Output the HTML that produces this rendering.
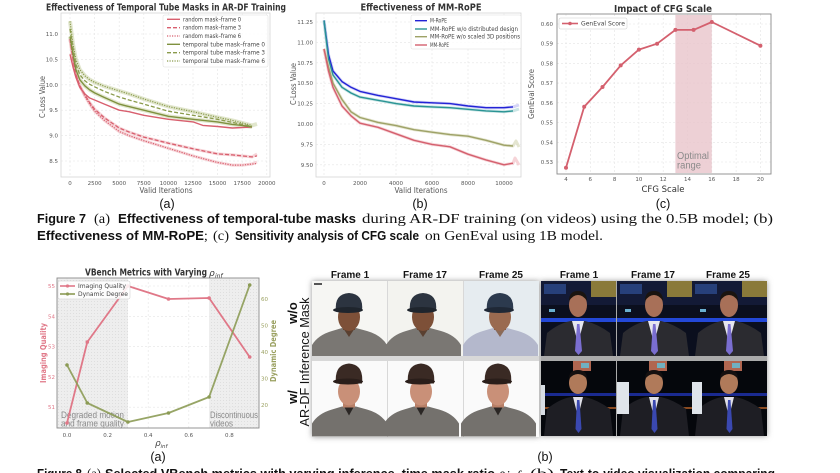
<!DOCTYPE html>
<html><head><meta charset="utf-8"><style>
html,body{margin:0;padding:0;background:#fff;}
svg{display:block;}
.tk{font-family:"DejaVu Sans","Liberation Sans",sans-serif;font-size:5.5px;fill:#555;}
.ax{font-family:"DejaVu Sans","Liberation Sans",sans-serif;font-size:8px;fill:#555;}
.ti{font-family:"DejaVu Sans","Liberation Sans",sans-serif;font-size:9.5px;font-weight:bold;fill:#333;}
.lg{font-family:"DejaVu Sans","Liberation Sans",sans-serif;font-size:6px;fill:#444;}
.cb{font-family:"Liberation Sans",sans-serif;font-size:13px;font-weight:bold;fill:#111;}
.cs{font-family:"Liberation Serif",serif;font-size:13.5px;fill:#111;}
.lab{font-family:"Liberation Sans",sans-serif;font-size:12.5px;fill:#111;}
.fr{font-family:"Liberation Sans",sans-serif;font-size:10px;font-weight:bold;fill:#111;}
.gr{stroke:#e4e4e4;stroke-width:0.6;stroke-dasharray:2,2;}
</style></head><body>
<svg width="840" height="473" viewBox="0 0 840 473" xmlns="http://www.w3.org/2000/svg">
<defs>
<pattern id="dots" width="3" height="3" patternUnits="userSpaceOnUse"><rect width="3" height="3" fill="#eeeeee"/><circle cx="1.5" cy="1.5" r="0.45" fill="#d6d6d6"/></pattern>
<filter id="sh" x="-10%" y="-10%" width="120%" height="120%"><feGaussianBlur stdDeviation="3"/></filter>
<symbol id="lp1" viewBox="0 0 75 75">
 <path d="M0,75 L0,64 Q6,54 20,50 L30,47 L44,47 L55,50 Q69,54 75,64 L75,75Z" fill="#7a7773"/>
 <path d="M31,47 L37,56 L43,47Z" fill="#5a4030"/>
 <rect x="31" y="38" width="12" height="11" fill="#6e4632"/>
 <ellipse cx="37" cy="36" rx="11" ry="14" fill="#7d5038"/>
 <path d="M24,30 Q22,13 37,12 Q52,13 50,30Z" fill="#2c3440"/>
 <ellipse cx="36" cy="29" rx="15" ry="3" fill="#1f252d"/>
</symbol>
<symbol id="lp1b" viewBox="0 0 75 75">
 <path d="M0,75 L0,64 Q6,54 20,50 L30,47 L44,47 L55,50 Q69,54 75,64 L75,75Z" fill="#b4b8cc"/>
 <path d="M31,47 L37,56 L43,47Z" fill="#8a6a58"/>
 <rect x="31" y="38" width="12" height="11" fill="#8a6048"/>
 <ellipse cx="37" cy="36" rx="11" ry="14" fill="#9a6a50"/>
 <path d="M24,30 Q22,13 37,12 Q52,13 50,30Z" fill="#2c3a4e"/>
 <ellipse cx="36" cy="29" rx="15" ry="3" fill="#1f2836"/>
</symbol>
<symbol id="lp2" viewBox="0 0 75 75">
 <path d="M0,75 L0,62 Q6,52 20,48 L30,45 L44,45 L55,48 Q69,52 75,62 L75,75Z" fill="#74716d"/>
 <path d="M32,45 L37,54 L42,45Z" fill="#2a2624"/>
 <rect x="31" y="34" width="12" height="12" fill="#b88068"/>
 <ellipse cx="37" cy="30" rx="11" ry="14" fill="#c99078"/>
 <path d="M24,22 Q22,3 37,2 Q52,3 50,22Z" fill="#3a2a24"/>
 <ellipse cx="36" cy="20" rx="15" ry="3" fill="#2a1e1a"/>
</symbol>
<symbol id="rp1" viewBox="0 0 75 75">
 <rect width="75" height="75" fill="#0b0f1e"/>
 <rect x="0" y="0" width="75" height="24" fill="#131a36"/>
 <rect x="3" y="3" width="22" height="10" fill="#27407a"/>
 <rect x="50" y="0" width="25" height="16" fill="#8a7a3a"/>
 <rect x="0" y="37" width="75" height="4" fill="#2348d8"/>
 <rect x="8" y="28" width="6" height="3" fill="#6ab0d0"/>
 <path d="M3,75 L6,52 Q18,42 30,40 L44,40 Q57,43 69,52 L72,75Z" fill="#2b2b30"/>
 <path d="M31,40 L37,62 L43,40Z" fill="#e6e6ee"/>
 <path d="M36,43 L38.5,43 L41,70 L37.5,74 L34,70Z" fill="#7a6ed0"/>
 <ellipse cx="37" cy="24" rx="9" ry="12" fill="#a87058"/>
 <path d="M28,20 Q28,10 37,10 Q46,10 46,20 Q42,14 37,14 Q32,14 28,20Z" fill="#1a1410"/>
</symbol>
<symbol id="rp2" viewBox="0 0 75 75">
 <rect width="75" height="75" fill="#05070c"/>
 <rect x="32" y="0" width="18" height="10" fill="#b06650"/>
 <rect x="40" y="2" width="8" height="5" fill="#70b0c0"/>
 <rect x="0" y="32" width="75" height="3" fill="#1a2a90"/>
 <rect x="0" y="46" width="75" height="2" fill="#8a4a20"/>
 <path d="M3,75 L6,48 Q18,38 30,36 L44,36 Q57,39 69,48 L72,75Z" fill="#1e1e24"/>
 <path d="M32,36 L37,56 L42,36Z" fill="#e0e0e8"/>
 <path d="M36,39 L38.5,39 L40.5,68 L37.5,72 L34.5,68Z" fill="#3a48b0"/>
 <ellipse cx="37" cy="22" rx="9" ry="11" fill="#b07a5a"/>
 <path d="M28,18 Q28,9 37,9 Q46,9 46,18 Q42,13 37,13 Q32,13 28,18Z" fill="#151010"/>
</symbol>
</defs>

<!-- ============ CHART A ============ -->
<text class="ti" x="166" y="10.5" text-anchor="middle" textLength="240" lengthAdjust="spacingAndGlyphs">Effectiveness of Temporal Tube Masks in AR-DF Training</text>
<rect x="61" y="13" width="209" height="164" fill="#fff" stroke="#d4d4d4" stroke-width="0.8"/>
<g class="gr">
<line x1="70" y1="13" x2="70" y2="177"/><line x1="94.6" y1="13" x2="94.6" y2="177"/><line x1="119.2" y1="13" x2="119.2" y2="177"/><line x1="143.8" y1="13" x2="143.8" y2="177"/><line x1="168.4" y1="13" x2="168.4" y2="177"/><line x1="193" y1="13" x2="193" y2="177"/><line x1="217.6" y1="13" x2="217.6" y2="177"/><line x1="242.2" y1="13" x2="242.2" y2="177"/><line x1="266.8" y1="13" x2="266.8" y2="177"/>
<line x1="61" y1="34" x2="270" y2="34"/><line x1="61" y1="59.4" x2="270" y2="59.4"/><line x1="61" y1="84.8" x2="270" y2="84.8"/><line x1="61" y1="110.2" x2="270" y2="110.2"/><line x1="61" y1="135.6" x2="270" y2="135.6"/><line x1="61" y1="161" x2="270" y2="161"/>
</g>
<g class="tk" text-anchor="end">
<text x="58" y="36">11.0</text><text x="58" y="61.4">10.5</text><text x="58" y="86.8">10.0</text><text x="58" y="112.2">9.5</text><text x="58" y="137.6">9.0</text><text x="58" y="163">8.5</text>
</g>
<g class="tk" text-anchor="middle">
<text x="70" y="185">0</text><text x="94.6" y="185">2500</text><text x="119.2" y="185">5000</text><text x="143.8" y="185">7500</text><text x="168.4" y="185">10000</text><text x="193" y="185">12500</text><text x="217.6" y="185">15000</text><text x="242.2" y="185">17500</text><text x="266.8" y="185">20000</text>
</g>
<text class="ax" x="166" y="193" text-anchor="middle" textLength="53" lengthAdjust="spacingAndGlyphs">Valid Iterations</text>
<text class="ax" transform="translate(45,97) rotate(-90)" text-anchor="middle" textLength="42" lengthAdjust="spacingAndGlyphs">C-Loss Value</text>
<g fill="none" stroke-linejoin="round">
<polyline points="70,36.5 73,54.3 75.9,69.6 79.8,79.7 84.8,85.8 89.7,89.9 94.6,92.9 104.4,97.5 119.2,104.1 129,106.6 143.8,110.2 168.4,116.3 193,119.3 217.6,121.9 232.4,124.4 242.2,125.4 252,127" stroke="#c9d2a4" stroke-width="4" opacity="0.55"/>
<polyline points="70,21.3 73,44.2 75.9,59.4 79.8,69.6 84.8,75.7 89.7,79.7 94.6,82.3 104.4,86.3 119.2,90.9 129,93.9 143.8,99 168.4,106.6 193,111.7 217.6,117.3 232.4,120.4 242.2,122.9 252,125.4 257,124" stroke="#c9d2a4" stroke-width="4" opacity="0.55"/>
<polyline points="70,39.1 73,59.4 75.9,74.6 79.8,85.8 84.8,95 89.7,102.6 94.6,109.2 104.4,117.8 119.2,128 129,132 143.8,137.1 168.4,143.2 193,148.8 217.6,153.9 232.4,154.9 242.2,155.9 252,156.9 257,154" stroke="#f2c2c8" stroke-width="3" opacity="0.7"/>
<polyline points="70,39.1 73,59.4 75.9,74.6 79.8,85.8 84.8,96 89.7,104.1 94.6,111.2 104.4,120.4 119.2,131.5 129,135.6 143.8,140.7 168.4,148.3 193,155.9 217.6,162.5 232.4,165.1 242.2,165.1 252,164 257,162" stroke="#f2c2c8" stroke-width="3" opacity="0.7"/>
<polyline points="70,54.3 73,67 75.9,77.2 79.8,87.3 84.8,93.9 89.7,98 94.6,100 104.4,104.1 119.2,110.2 129,111.7 143.8,115.3 168.4,119.3 193,121.9 202.8,125.4 217.6,126.5 232.4,128 242.2,127.5 252,127" stroke="#d85f6e" stroke-width="1.4"/>
<polyline points="70,39.1 73,59.4 75.9,74.6 79.8,85.8 84.8,95 89.7,102.6 94.6,109.2 104.4,117.8 119.2,128 129,132 143.8,137.1 168.4,143.2 193,148.8 217.6,153.9 232.4,154.9 242.2,155.9 252,156.9 257,155.9" stroke="#d85f6e" stroke-width="1.3" stroke-dasharray="4,2"/>
<polyline points="70,39.1 73,59.4 75.9,74.6 79.8,85.8 84.8,96 89.7,104.1 94.6,111.2 104.4,120.4 119.2,131.5 129,135.6 143.8,140.7 168.4,148.3 193,155.9 217.6,162.5 232.4,165.1 242.2,165.1 252,164 257,163.5" stroke="#d85f6e" stroke-width="1.2" stroke-dasharray="1.2,1.3"/>
<polyline points="70,36.5 73,54.3 75.9,69.6 79.8,79.7 84.8,85.8 89.7,89.9 94.6,92.9 104.4,97.5 119.2,104.1 129,106.6 143.8,110.2 168.4,116.3 193,119.3 217.6,121.9 232.4,124.4 242.2,125.4 252,127" stroke="#7f913f" stroke-width="1.4"/>
<polyline points="70,28.9 73,49.2 75.9,64.5 79.8,74.6 84.8,80.7 89.7,84.3 94.6,86.8 104.4,91.4 119.2,97 129,100 143.8,104.1 168.4,111.2 193,115.3 217.6,119.3 232.4,122.4 242.2,124.4 252,126.5" stroke="#8a9b4c" stroke-width="1.3" stroke-dasharray="4,2"/>
<polyline points="70,21.3 73,44.2 75.9,59.4 79.8,69.6 84.8,75.7 89.7,79.7 94.6,82.3 104.4,86.3 119.2,90.9 129,93.9 143.8,99 168.4,106.6 193,111.7 217.6,117.3 232.4,120.4 242.2,122.9 252,125.4" stroke="#8a9b4c" stroke-width="1.2" stroke-dasharray="1.2,1.3"/>
</g>
<rect x="163" y="15" width="105" height="52" fill="#fff" fill-opacity="0.85" stroke="#ddd" stroke-width="0.5" rx="1.5"/>
<g fill="none">
<line x1="167" y1="19.3" x2="180" y2="19.3" stroke="#d85f6e" stroke-width="1.4"/>
<line x1="167" y1="27.7" x2="180" y2="27.7" stroke="#d85f6e" stroke-width="1.3" stroke-dasharray="4,2"/>
<line x1="167" y1="36" x2="180" y2="36" stroke="#d85f6e" stroke-width="1.2" stroke-dasharray="1.2,1.3"/>
<line x1="167" y1="44.3" x2="180" y2="44.3" stroke="#7f913f" stroke-width="1.4"/>
<line x1="167" y1="52.7" x2="180" y2="52.7" stroke="#8a9b4c" stroke-width="1.3" stroke-dasharray="4,2"/>
<line x1="167" y1="61" x2="180" y2="61" stroke="#8a9b4c" stroke-width="1.2" stroke-dasharray="1.2,1.3"/>
</g>
<g class="lg">
<text x="183" y="21.3" textLength="58" lengthAdjust="spacingAndGlyphs">random mask–frame 0</text>
<text x="183" y="29.7" textLength="58" lengthAdjust="spacingAndGlyphs">random mask–frame 3</text>
<text x="183" y="38" textLength="58" lengthAdjust="spacingAndGlyphs">random mask–frame 6</text>
<text x="183" y="46.3" textLength="82" lengthAdjust="spacingAndGlyphs">temporal tube mask–frame 0</text>
<text x="183" y="54.7" textLength="82" lengthAdjust="spacingAndGlyphs">temporal tube mask–frame 3</text>
<text x="183" y="63" textLength="82" lengthAdjust="spacingAndGlyphs">temporal tube mask–frame 6</text>
</g>

<!-- ============ CHART B ============ -->
<text class="ti" x="421" y="10.5" text-anchor="middle" textLength="121" lengthAdjust="spacingAndGlyphs">Effectiveness of MM-RoPE</text>
<rect x="316" y="13" width="205" height="164" fill="#fff" stroke="#d4d4d4" stroke-width="0.8"/>
<g class="gr">
<line x1="324" y1="13" x2="324" y2="177"/><line x1="360" y1="13" x2="360" y2="177"/><line x1="396" y1="13" x2="396" y2="177"/><line x1="432" y1="13" x2="432" y2="177"/><line x1="468" y1="13" x2="468" y2="177"/><line x1="504" y1="13" x2="504" y2="177"/>
<line x1="316" y1="22" x2="521" y2="22"/><line x1="316" y1="42.4" x2="521" y2="42.4"/><line x1="316" y1="62.8" x2="521" y2="62.8"/><line x1="316" y1="83.2" x2="521" y2="83.2"/><line x1="316" y1="103.6" x2="521" y2="103.6"/><line x1="316" y1="124" x2="521" y2="124"/><line x1="316" y1="144.4" x2="521" y2="144.4"/><line x1="316" y1="164.8" x2="521" y2="164.8"/>
</g>
<g class="tk" text-anchor="end">
<text x="313" y="24">11.25</text><text x="313" y="44.4">11.00</text><text x="313" y="64.8">10.75</text><text x="313" y="85.2">10.50</text><text x="313" y="105.6">10.25</text><text x="313" y="126">10.00</text><text x="313" y="146.4">9.75</text><text x="313" y="166.8">9.50</text>
</g>
<g class="tk" text-anchor="middle">
<text x="324" y="185">0</text><text x="360" y="185">2000</text><text x="396" y="185">4000</text><text x="432" y="185">6000</text><text x="468" y="185">8000</text><text x="504" y="185">10000</text>
</g>
<text class="ax" x="421" y="193" text-anchor="middle" textLength="53" lengthAdjust="spacingAndGlyphs">Valid Iterations</text>
<text class="ax" transform="translate(296,84) rotate(-90)" text-anchor="middle" textLength="42" lengthAdjust="spacingAndGlyphs">C-Loss Value</text>
<g fill="none" stroke-linejoin="round">
<polyline points="324,20.4 328.5,54.6 333,71 342,81.6 351,87.3 360,91.4 378,95.4 396,98.7 414,102 432,102.8 450,103.6 468,106 486,107.7 504,107.7 513,106.9 519,105" stroke="#b8b8f0" stroke-width="3" opacity="0.6"/>
<polyline points="324,20.4 328.5,58.7 333,75 342,87.3 351,93 360,97.1 378,100.3 396,103.6 414,106 432,106.9 450,107.7 468,109.3 486,110.9 504,111.8 513,110.9 519,109" stroke="#a8d4d4" stroke-width="3" opacity="0.6"/>
<polyline points="324,48.9 328.5,66.9 333,83.2 342,99.5 351,111.8 360,117.5 378,122.4 396,125.6 414,129.7 432,132.2 450,134.6 468,136.2 486,140.3 504,145.2 513,146 516,141 519,147" stroke="#d8dabc" stroke-width="3" opacity="0.7"/>
<polyline points="324,48.9 328.5,71 333,87.3 342,106 351,115.8 360,123.2 378,127.3 396,133.8 414,140.3 432,144.4 450,146.8 468,154.2 486,159.9 504,164.8 513,163.2 515,158 519,165" stroke="#f2c2c8" stroke-width="3" opacity="0.7"/>
<polyline points="324,20.4 328.5,54.6 333,71 342,81.6 351,87.3 360,91.4 378,95.4 396,98.7 414,102 432,102.8 450,103.6 468,106 486,107.7 504,107.7 513,106.9" stroke="#2323d6" stroke-width="1.4"/>
<polyline points="324,20.4 328.5,58.7 333,75 342,87.3 351,93 360,97.1 378,100.3 396,103.6 414,106 432,106.9 450,107.7 468,109.3 486,110.9 504,111.8 513,110.9" stroke="#2a9494" stroke-width="1.4"/>
<polyline points="324,48.9 328.5,66.9 333,83.2 342,99.5 351,111.8 360,117.5 378,122.4 396,125.6 414,129.7 432,132.2 450,134.6 468,136.2 486,140.3 504,145.2 513,146" stroke="#9ea267" stroke-width="1.4"/>
<polyline points="324,48.9 328.5,71 333,87.3 342,106 351,115.8 360,123.2 378,127.3 396,133.8 414,140.3 432,144.4 450,146.8 468,154.2 486,159.9 504,164.8 513,163.2" stroke="#d4606e" stroke-width="1.4"/>
</g>
<rect x="411" y="15" width="110" height="34" fill="#fff" fill-opacity="0.85" stroke="#ddd" stroke-width="0.5" rx="1.5"/>
<line x1="415" y1="20.7" x2="427" y2="20.7" stroke="#2323d6" stroke-width="1.4"/>
<line x1="415" y1="29" x2="427" y2="29" stroke="#2a9494" stroke-width="1.4"/>
<line x1="415" y1="36.7" x2="427" y2="36.7" stroke="#9ea267" stroke-width="1.4"/>
<line x1="415" y1="45" x2="427" y2="45" stroke="#d4606e" stroke-width="1.4"/>
<g class="lg">
<text x="430" y="22.7" textLength="17" lengthAdjust="spacingAndGlyphs">M-RoPE</text>
<text x="430" y="31" textLength="88" lengthAdjust="spacingAndGlyphs">MM-RoPE w/o distributed design</text>
<text x="430" y="38.7" textLength="90" lengthAdjust="spacingAndGlyphs">MM-RoPE w/o scaled 3D positions</text>
<text x="430" y="47" textLength="19" lengthAdjust="spacingAndGlyphs">MM-RoPE</text>
</g>

<!-- ============ CHART C ============ -->
<text class="ti" x="663" y="12" text-anchor="middle" textLength="98" lengthAdjust="spacingAndGlyphs">Impact of CFG Scale</text>
<rect x="557" y="14" width="214" height="160" fill="#fff"/>
<g class="gr">
<line x1="566" y1="14" x2="566" y2="174"/><line x1="590.3" y1="14" x2="590.3" y2="174"/><line x1="614.6" y1="14" x2="614.6" y2="174"/><line x1="638.9" y1="14" x2="638.9" y2="174"/><line x1="663.2" y1="14" x2="663.2" y2="174"/><line x1="687.5" y1="14" x2="687.5" y2="174"/><line x1="711.8" y1="14" x2="711.8" y2="174"/><line x1="736.1" y1="14" x2="736.1" y2="174"/><line x1="760.4" y1="14" x2="760.4" y2="174"/>
<line x1="557" y1="24" x2="771" y2="24"/><line x1="557" y1="43.7" x2="771" y2="43.7"/><line x1="557" y1="63.4" x2="771" y2="63.4"/><line x1="557" y1="83.1" x2="771" y2="83.1"/><line x1="557" y1="102.8" x2="771" y2="102.8"/><line x1="557" y1="122.5" x2="771" y2="122.5"/><line x1="557" y1="142.3" x2="771" y2="142.3"/><line x1="557" y1="162" x2="771" y2="162"/>
</g>
<rect x="675.4" y="15" width="36.4" height="158" fill="#e8c4cb" opacity="0.8"/>
<rect x="557" y="14" width="214" height="160" fill="none" stroke="#8a8a8a" stroke-width="0.9"/>
<text x="677" y="159" font-family="Liberation Sans,sans-serif" font-size="10" fill="#8a8a8a" textLength="32" lengthAdjust="spacingAndGlyphs">Optimal</text>
<text x="677" y="168.5" font-family="Liberation Sans,sans-serif" font-size="10" fill="#8a8a8a" textLength="24" lengthAdjust="spacingAndGlyphs">range</text>
<g class="tk" text-anchor="end">
<text x="553" y="26">0.60</text><text x="553" y="45.7">0.59</text><text x="553" y="65.4">0.58</text><text x="553" y="85.1">0.57</text><text x="553" y="104.8">0.56</text><text x="553" y="124.5">0.55</text><text x="553" y="144.3">0.54</text><text x="553" y="164">0.53</text>
</g>
<g class="tk" text-anchor="middle">
<text x="566" y="181">4</text><text x="590.3" y="181">6</text><text x="614.6" y="181">8</text><text x="638.9" y="181">10</text><text x="663.2" y="181">12</text><text x="687.5" y="181">14</text><text x="711.8" y="181">16</text><text x="736.1" y="181">18</text><text x="760.4" y="181">20</text>
</g>
<text x="663" y="192" text-anchor="middle" font-family="DejaVu Sans,Liberation Sans,sans-serif" font-size="9" fill="#333" textLength="43" lengthAdjust="spacingAndGlyphs">CFG Scale</text>
<text class="ax" transform="translate(534,94) rotate(-90)" text-anchor="middle" fill="#444" textLength="50" lengthAdjust="spacingAndGlyphs">GenEval Score</text>
<polyline points="566,167.8 584.2,106.7 602.5,87 620.7,65.4 638.9,49.6 657.1,43.7 675.4,29.9 693.6,29.9 711.8,22 760.4,45.7" fill="none" stroke="#d4606e" stroke-width="1.8" stroke-linejoin="round"/>
<g fill="#d4606e">
<circle cx="566" cy="167.8" r="2"/><circle cx="584.2" cy="106.7" r="2"/><circle cx="602.5" cy="87" r="2"/><circle cx="620.7" cy="65.4" r="2"/><circle cx="638.9" cy="49.6" r="2"/><circle cx="657.1" cy="43.7" r="2"/><circle cx="675.4" cy="29.9" r="2"/><circle cx="693.6" cy="29.9" r="2"/><circle cx="711.8" cy="22" r="2"/><circle cx="760.4" cy="45.7" r="2"/>
</g>
<rect x="559" y="18" width="68" height="11" fill="#fff" stroke="#ccc" stroke-width="0.5" rx="1.5"/>
<line x1="562" y1="23.5" x2="578" y2="23.5" stroke="#d4606e" stroke-width="1.6"/><circle cx="570" cy="23.5" r="1.8" fill="#d4606e"/>
<text class="lg" x="581" y="25.5" textLength="44" lengthAdjust="spacingAndGlyphs">GenEval Score</text>

<text class="lab" x="167" y="208" text-anchor="middle">(a)</text>
<text class="lab" x="420" y="208" text-anchor="middle">(b)</text>
<text class="lab" x="663" y="208" text-anchor="middle">(c)</text>

<!-- Figure 7 caption -->
<text class="cb" x="37" y="223" textLength="49" lengthAdjust="spacingAndGlyphs">Figure 7</text>
<text class="cs" x="94" y="223" textLength="16" lengthAdjust="spacingAndGlyphs">(a)</text>
<text class="cb" x="118" y="223" textLength="238" lengthAdjust="spacingAndGlyphs">Effectiveness of temporal-tube masks</text>
<text class="cs" x="362" y="223" textLength="411" lengthAdjust="spacingAndGlyphs">during AR-DF training (on videos) using the 0.5B model; (b)</text>
<text class="cb" x="37" y="240" textLength="167" lengthAdjust="spacingAndGlyphs">Effectiveness of MM-RoPE</text>
<text class="cs" x="204" y="240">;</text>
<text class="cs" x="213" y="240" textLength="16" lengthAdjust="spacingAndGlyphs">(c)</text>
<text class="cb" x="235" y="240" textLength="184" lengthAdjust="spacingAndGlyphs">Sensitivity analysis of CFG scale</text>
<text class="cs" x="425" y="240" textLength="178" lengthAdjust="spacingAndGlyphs">on GenEval using 1B model.</text>

<!-- ============ FIG 8a ============ -->
<text class="ti" x="85" y="275.5" font-size="9" textLength="122" lengthAdjust="spacingAndGlyphs">VBench Metrics with Varying</text>
<text x="209" y="276" font-family="DejaVu Sans,sans-serif" font-size="9" font-style="italic" fill="#333">ρ</text>
<text x="215" y="278" font-family="DejaVu Sans,sans-serif" font-size="6" font-style="italic" fill="#333">inf</text>
<rect x="57" y="278" width="202" height="150" fill="#fff"/>
<rect x="57" y="278" width="71" height="150" fill="url(#dots)"/>
<rect x="209" y="278" width="50" height="150" fill="url(#dots)"/>
<g class="gr">
<line x1="67" y1="278" x2="67" y2="428"/><line x1="107.6" y1="278" x2="107.6" y2="428"/><line x1="148.2" y1="278" x2="148.2" y2="428"/><line x1="188.8" y1="278" x2="188.8" y2="428"/><line x1="229.4" y1="278" x2="229.4" y2="428"/>
<line x1="57" y1="286" x2="259" y2="286"/><line x1="57" y1="316.3" x2="259" y2="316.3"/><line x1="57" y1="346.6" x2="259" y2="346.6"/><line x1="57" y1="376.9" x2="259" y2="376.9"/><line x1="57" y1="407.2" x2="259" y2="407.2"/>
</g>
<rect x="57" y="278" width="202" height="150" fill="none" stroke="#8a8a8a" stroke-width="0.9"/>
<g font-family="Liberation Sans,sans-serif" font-size="9.5" fill="#8a8a8a">
<text x="61" y="418" textLength="63" lengthAdjust="spacingAndGlyphs">Degraded motion</text>
<text x="61" y="426.5" textLength="63" lengthAdjust="spacingAndGlyphs">and frame quality</text>
<text x="210" y="418" textLength="48" lengthAdjust="spacingAndGlyphs">Discontinuous</text>
<text x="210" y="426.5" textLength="23" lengthAdjust="spacingAndGlyphs">videos</text>
</g>
<polyline points="67,423 87.3,342 127.9,286 168.5,299 209.1,298 249.7,357" fill="none" stroke="#e07888" stroke-width="1.8" stroke-linejoin="round"/>
<polyline points="67,365 87.3,403 127.9,422 168.5,413 209.1,397 249.7,285" fill="none" stroke="#8c9b55" stroke-width="1.8" stroke-linejoin="round" opacity="0.9"/>
<g fill="#e07888"><circle cx="67" cy="423" r="1.8"/><circle cx="87.3" cy="342" r="1.8"/><circle cx="127.9" cy="286" r="1.8"/><circle cx="168.5" cy="299" r="1.8"/><circle cx="209.1" cy="298" r="1.8"/><circle cx="249.7" cy="357" r="1.8"/></g>
<g fill="#8c9b55"><circle cx="67" cy="365" r="1.8"/><circle cx="87.3" cy="403" r="1.8"/><circle cx="127.9" cy="422" r="1.8"/><circle cx="168.5" cy="413" r="1.8"/><circle cx="209.1" cy="397" r="1.8"/><circle cx="249.7" cy="285" r="1.8"/></g>
<rect x="58" y="281" width="72" height="18" fill="#fff" fill-opacity="0.85" stroke="#ccc" stroke-width="0.5" rx="1.5"/>
<line x1="60" y1="286" x2="75" y2="286" stroke="#e07888" stroke-width="1.6"/><circle cx="67.5" cy="286" r="1.6" fill="#e07888"/>
<line x1="60" y1="294" x2="75" y2="294" stroke="#8c9b55" stroke-width="1.6"/><circle cx="67.5" cy="294" r="1.6" fill="#8c9b55"/>
<text class="lg" x="78" y="288" textLength="48" lengthAdjust="spacingAndGlyphs">Imaging Quality</text>
<text class="lg" x="78" y="296" textLength="50" lengthAdjust="spacingAndGlyphs">Dynamic Degree</text>
<g class="tk" text-anchor="end" style="fill:#e07888">
<text x="55" y="288">55</text><text x="55" y="318.3">54</text><text x="55" y="348.6">53</text><text x="55" y="378.9">52</text><text x="55" y="409.2">51</text>
</g>
<g class="tk" style="fill:#9aa060">
<text x="261" y="301">60</text><text x="261" y="327.5">50</text><text x="261" y="354">40</text><text x="261" y="380.5">30</text><text x="261" y="407">20</text>
</g>
<g class="tk" text-anchor="middle">
<text x="67" y="437">0.0</text><text x="107.6" y="437">0.2</text><text x="148.2" y="437">0.4</text><text x="188.8" y="437">0.6</text><text x="229.4" y="437">0.8</text>
</g>
<text x="155" y="446" font-family="DejaVu Sans,sans-serif" font-size="9" font-style="italic" fill="#444">ρ</text>
<text x="160.5" y="448" font-family="DejaVu Sans,sans-serif" font-size="5.5" font-style="italic" fill="#444">inf</text>
<text transform="translate(46,353) rotate(-90)" text-anchor="middle" font-family="DejaVu Sans,sans-serif" font-size="7.5" font-weight="bold" fill="#e07888" textLength="60" lengthAdjust="spacingAndGlyphs">Imaging Quality</text>
<text transform="translate(276,351) rotate(-90)" text-anchor="middle" font-family="DejaVu Sans,sans-serif" font-size="7.5" font-weight="bold" fill="#9aa060" textLength="62" lengthAdjust="spacingAndGlyphs">Dynamic Degree</text>
<text class="lab" x="158" y="461" text-anchor="middle">(a)</text>

<!-- ============ FIG 8b photos ============ -->
<text transform="translate(297,313) rotate(-90)" text-anchor="middle" font-family="Liberation Sans,sans-serif" font-size="13" font-weight="bold" fill="#111">w/o</text>
<text transform="translate(309,362) rotate(-90)" text-anchor="middle" font-family="Liberation Sans,sans-serif" font-size="12.5" fill="#111" textLength="129" lengthAdjust="spacingAndGlyphs">AR-DF Inference Mask</text>
<text transform="translate(297,397) rotate(-90)" text-anchor="middle" font-family="Liberation Sans,sans-serif" font-size="13" font-weight="bold" fill="#111">w/</text>

<g class="fr" text-anchor="middle">
<text x="350" y="278">Frame 1</text><text x="425" y="278">Frame 17</text><text x="501" y="278">Frame 25</text>
<text x="579" y="278">Frame 1</text><text x="653" y="278">Frame 17</text><text x="728" y="278">Frame 25</text>
</g>
<rect x="312" y="281" width="227" height="156" fill="#999" filter="url(#sh)"/>
<rect x="541" y="281" width="226" height="155" fill="#999" filter="url(#sh)"/>
<rect x="312" y="281" width="227" height="156" fill="#d8d8d8"/>
<rect x="541" y="281" width="226" height="155" fill="#aaaaaa"/>
<rect x="312" y="281" width="75" height="75" fill="#f6f6f3"/>
<use href="#lp1" x="312" y="281" width="75" height="75"/>
<rect x="314" y="283" width="8" height="2" fill="#555"/>
<rect x="388" y="281" width="75" height="75" fill="#f3f3ef"/>
<use href="#lp1" x="386" y="281" width="75" height="75"/>
<rect x="464" y="281" width="75" height="75" fill="#e6ecf0"/>
<use href="#lp1b" x="463" y="281" width="75" height="75"/>
<rect x="312" y="361" width="75" height="76" fill="#fafafa"/>
<use href="#lp2" x="312" y="361" width="75" height="76"/>
<rect x="388" y="361" width="75" height="76" fill="#fafafa"/>
<use href="#lp2" x="384" y="361" width="75" height="76"/>
<rect x="464" y="361" width="75" height="76" fill="#fafafa"/>
<use href="#lp2" x="461" y="361" width="75" height="76"/>
<use href="#rp1" x="541" y="281" width="75" height="75"/>
<use href="#rp1" x="617" y="281" width="75" height="75"/>
<use href="#rp1" x="692" y="281" width="75" height="75"/>
<use href="#rp2" x="541" y="361" width="75" height="75"/>
<rect x="541" y="385" width="4" height="30" fill="#d8dde4"/>
<use href="#rp2" x="617" y="361" width="75" height="75"/>
<rect x="617" y="382" width="12" height="32" fill="#dfe4ea"/>
<use href="#rp2" x="692" y="361" width="75" height="75"/>
<rect x="692" y="382" width="10" height="32" fill="#dfe4ea"/>
<text class="lab" x="545" y="461" text-anchor="middle">(b)</text>

<!-- Figure 8 caption (cut off) -->
<text class="cb" x="37" y="478" textLength="45" lengthAdjust="spacingAndGlyphs">Figure 8</text>
<text class="cs" x="87" y="478" textLength="14" lengthAdjust="spacingAndGlyphs">(a)</text>
<text class="cb" x="105" y="478" textLength="390" lengthAdjust="spacingAndGlyphs">Selected VBench metrics with varying inference–time mask ratio</text>
<text class="cs" x="499" y="478" font-style="italic">ρ</text>
<text class="cs" x="506" y="480" font-size="8" font-style="italic">inf</text>
<text class="cs" x="530" y="478" textLength="24" lengthAdjust="spacingAndGlyphs">(b)</text>
<text class="cb" x="560" y="478" textLength="215" lengthAdjust="spacingAndGlyphs">Text-to-video visualization comparing</text>
</svg>
</body></html>
